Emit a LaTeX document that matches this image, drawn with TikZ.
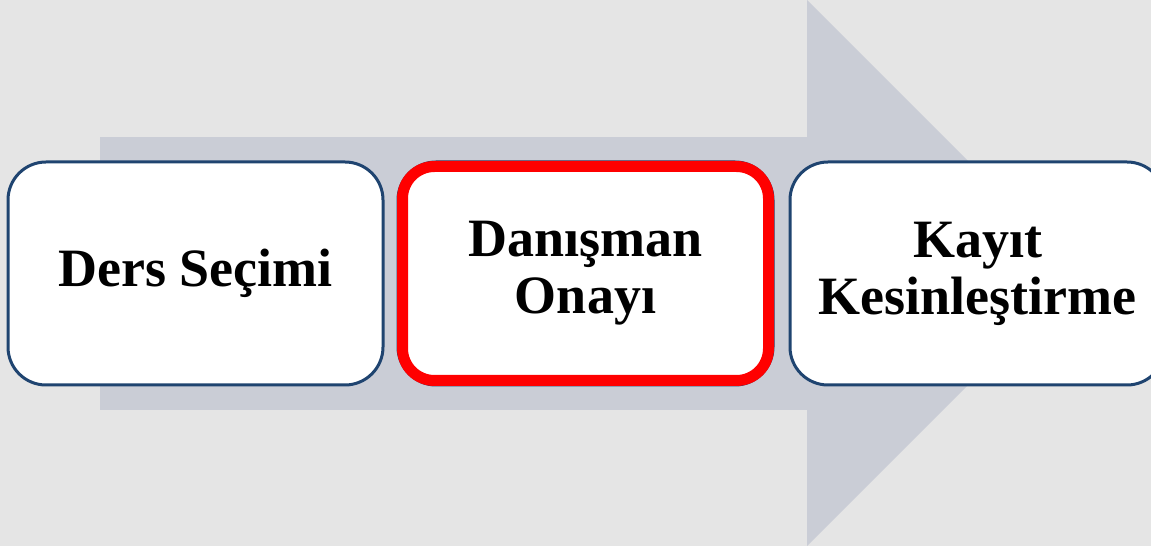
\documentclass[tikz,border=0pt]{standalone}
\usepackage{fontspec}
\setmainfont{Liberation Serif}
\usepackage{xcolor}
\usetikzlibrary{positioning,calc}
\definecolor{bggray}{RGB}{229,229,229}
\definecolor{arrowgray}{RGB}{202,205,214}
\definecolor{boxblue}{RGB}{31,68,112}

\begin{document}
\begin{tikzpicture}[
    x=1pt, y=1pt,
    node distance=13pt,
    stepbox/.style={rectangle, draw=boxblue, line width=3pt, fill=white, rounded corners=38pt, minimum width=375pt, minimum height=223pt, align=center, font=\fontsize{54}{57}\selectfont\bfseries},
    current/.style={draw=red, line width=11pt, rounded corners=32pt}
]

% Background and big arrow
\fill[bggray] (0,0) rectangle (1151,546);
\useasboundingbox (0,0) rectangle (1151,546);
\fill[arrowgray] (100,136) rectangle (808,409);
\fill[arrowgray] (807,546) -- (1080,273) -- (807,0) -- cycle;

% Steps
\node[stepbox] (secim) at (195.5,272.5) {Ders Seçimi};
\node[stepbox, right=12pt of secim] (onay) {Danışman\\Onayı};
\node[stepbox, right=14pt of onay] (kayit) {Kayıt\\Kesinleştirme};

% Current step
\draw[current] ($(onay.south west)+(6,6)$) rectangle ($(onay.north east)-(6,6)$);

\end{tikzpicture}
\end{document}
